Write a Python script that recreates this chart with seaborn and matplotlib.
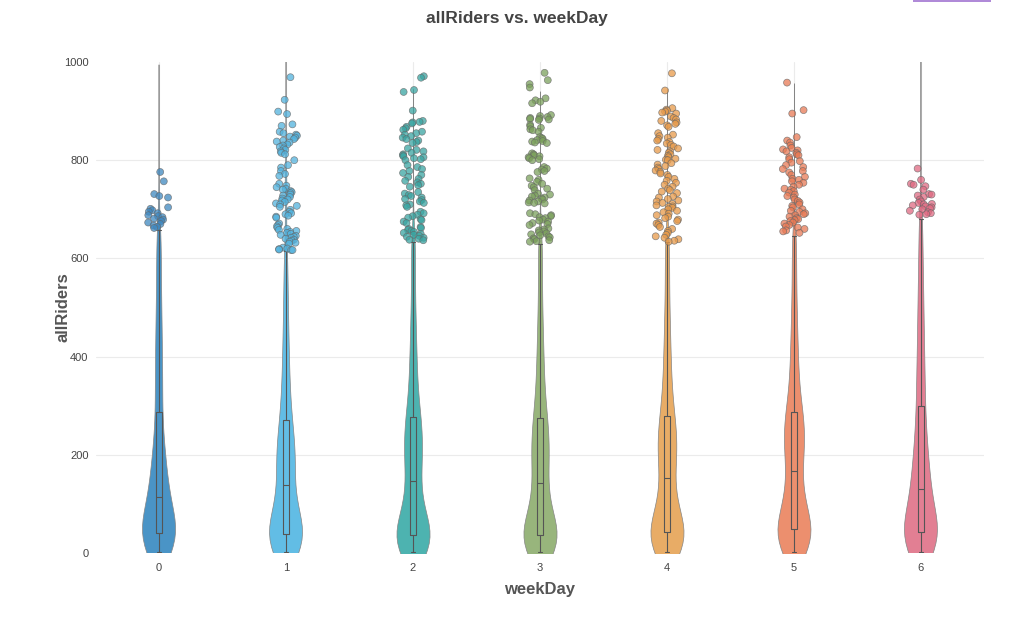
import numpy as np
import pandas as pd
import matplotlib
matplotlib.use("Agg")
import matplotlib.pyplot as plt
import seaborn as sns
from matplotlib.patches import FancyBboxPatch

# ---------------- data ----------------
week_days = ["0", "1", "2", "3", "4", "5", "6"]
y_ticks = [0, 200, 400, 600, 800, 1000]

# estimated percentiles (1%, 3%, ..., 99%) of allRiders for each weekDay
q_day0 = [2, 6, 9, 12, 15, 18, 21, 24, 27, 30, 33, 36, 39,
          43, 47, 52, 57, 62, 68, 74, 80, 87, 94, 101, 108,
          121, 129, 138, 148, 158, 169, 181, 194, 208, 223, 240, 266, 295,
          318, 342, 366, 392, 418, 446, 476, 508, 543, 582, 622, 658]
q_day1 = [2, 5, 8, 11, 14, 17, 20, 23, 26, 29, 32, 35, 37,
          41, 46, 52, 58, 65, 72, 80, 88, 97, 106, 116, 129,
          147, 158, 167, 176, 185, 194, 203, 213, 223, 233, 244, 255, 275,
          290, 310, 332, 356, 382, 410, 442, 477, 517, 562, 615, 740]
q_day2 = [2, 5, 8, 11, 14, 17, 20, 23, 26, 29, 31, 33, 35,
          39, 44, 50, 57, 64, 72, 81, 90, 100, 111, 123, 136,
          158, 168, 178, 188, 198, 208, 218, 228, 238, 248, 258, 268, 279,
          292, 310, 330, 352, 376, 402, 430, 462, 500, 545, 598, 634]
q_day3 = [2, 5, 8, 11, 14, 17, 20, 23, 26, 29, 31, 33, 35,
          39, 44, 50, 56, 63, 71, 79, 88, 98, 108, 119, 131,
          153, 163, 173, 183, 193, 203, 213, 223, 234, 245, 256, 266, 277,
          292, 310, 330, 352, 376, 402, 430, 462, 500, 545, 596, 630]
q_day4 = [3, 6, 9, 12, 15, 18, 21, 24, 28, 32, 35, 38, 41,
          45, 50, 56, 62, 69, 77, 85, 94, 104, 115, 127, 141,
          165, 175, 185, 194, 203, 212, 221, 230, 240, 250, 260, 271, 282,
          298, 316, 336, 358, 382, 408, 436, 468, 505, 548, 596, 634]
q_day5 = [3, 7, 11, 15, 19, 23, 27, 31, 35, 39, 42, 45, 47,
          52, 58, 65, 72, 80, 89, 98, 108, 119, 130, 142, 155,
          177, 187, 197, 207, 217, 226, 235, 244, 253, 262, 271, 280, 290,
          305, 323, 343, 365, 389, 415, 443, 475, 512, 555, 603, 645]
q_day6 = [3, 6, 9, 12, 15, 18, 21, 24, 27, 31, 35, 38, 41,
          45, 50, 55, 61, 67, 74, 81, 89, 97, 106, 115, 124,
          136, 144, 153, 163, 174, 186, 199, 213, 228, 244, 261, 279, 305,
          325, 347, 370, 395, 421, 449, 479, 511, 546, 584, 632, 680]

# outlier points shown above the upper whisker
out_day0 = [776, 757, 731, 727, 724, 704, 701, 698, 695, 692, 688, 686, 684,
            681, 679, 676, 673, 670, 667, 664, 662]
out_day1 = [969, 923, 899, 894, 873, 870, 858, 855, 852, 850, 848, 846, 843,
            840, 838, 836, 832, 830, 827, 824, 821, 818, 815, 812, 800, 790,
            785, 778, 772, 768, 752, 748, 745, 742, 740, 737, 735, 733, 730,
            728, 725, 722, 720, 718, 715, 712, 710, 707, 705, 699, 695, 692,
            690, 687, 685, 683, 671, 668, 665, 662, 660, 658, 656, 654, 652,
            650, 648, 646, 644, 642, 640, 638, 636, 634, 632, 630, 622, 620,
            619, 618, 617, 617]
out_day2 = [971, 968, 943, 939, 901, 880, 878, 877, 875, 868, 865, 862, 858,
            855, 852, 849, 846, 843, 840, 837, 835, 824, 821, 818, 815, 812,
            810, 808, 806, 804, 802, 800, 790, 786, 782, 778, 774, 770, 766,
            762, 758, 755, 752, 749, 746, 735, 732, 729, 727, 724, 721, 719,
            716, 713, 710, 708, 705, 695, 692, 689, 686, 683, 680, 678, 675,
            672, 664, 662, 660, 658, 656, 654, 652, 650, 648, 646, 644, 642,
            640, 638, 637]
out_day3 = [978, 963, 955, 948, 926, 922, 919, 916, 892, 890, 888, 886, 885,
            884, 883, 882, 872, 869, 866, 863, 861, 858, 847, 845, 843, 841,
            839, 838, 836, 835, 814, 812, 810, 808, 806, 804, 802, 800, 786,
            783, 781, 778, 776, 763, 760, 756, 752, 748, 745, 742, 739, 732,
            730, 728, 726, 724, 722, 720, 718, 716, 714, 713, 712, 692, 690,
            688, 686, 684, 682, 679, 677, 675, 672, 670, 668, 661, 659, 657,
            655, 653, 651, 649, 647, 645, 643, 641, 639, 637, 635, 634]
out_day4 = [977, 942, 906, 903, 901, 899, 897, 895, 889, 886, 883, 880, 877,
            874, 871, 868, 855, 852, 849, 846, 843, 840, 837, 834, 831, 828,
            824, 821, 818, 815, 812, 809, 806, 803, 801, 800, 794, 791, 788,
            785, 782, 779, 776, 773, 770, 766, 762, 758, 754, 750, 746, 742,
            739, 736, 733, 726, 724, 721, 718, 716, 713, 711, 708, 706, 705,
            703, 700, 697, 694, 691, 688, 685, 682, 679, 676, 673, 671, 668,
            664, 660, 656, 652, 648, 645, 642, 639, 636, 634]
out_day5 = [958, 902, 895, 847, 840, 836, 830, 825, 822, 820, 818, 815, 812,
            810, 806, 802, 798, 795, 790, 786, 782, 778, 775, 770, 766, 762,
            760, 757, 754, 750, 746, 742, 740, 737, 734, 730, 727, 724, 720,
            717, 714, 710, 707, 704, 700, 697, 695, 692, 690, 688, 685, 682,
            680, 678, 676, 673, 671, 668, 665, 663, 660, 657, 655, 652]
out_day6 = [783, 760, 752, 750, 747, 740, 731, 730, 728, 725, 720, 716, 713,
            711, 710, 708, 706, 704, 702, 700, 697, 694, 692, 690, 689]

fill_colors = ["#4a94c6", "#62bde5", "#4db3b0", "#98b57c",
               "#e8ac66", "#ec8f6e", "#e27f93"]
point_colors = ["#3f88c0", "#52b2dd", "#3aa5a2", "#7ba05c",
                "#e79a4a", "#e87a55", "#e06a82"]

# ---------------- build long-form tables ----------------
quantiles = [q_day0, q_day1, q_day2, q_day3, q_day4, q_day5, q_day6]
outliers = [out_day0, out_day1, out_day2, out_day3, out_day4, out_day5, out_day6]

body = pd.DataFrame({
    "weekDay": np.repeat(week_days, [len(q) for q in quantiles]),
    "allRiders": np.concatenate(quantiles),
})
outl = pd.DataFrame({
    "weekDay": np.repeat(week_days, [len(o) for o in outliers]),
    "allRiders": np.concatenate(outliers),
})

# ---------------- plot ----------------
sns.set_theme(style="white")
plt.rcParams["font.family"] = ["Liberation Sans", "DejaVu Sans"]

fig = plt.figure(figsize=(10.33, 6.25), dpi=100)
ax = fig.add_axes([0.0925, 0.1152, 0.8605, 0.7856])

sns.violinplot(data=body, x="weekDay", y="allRiders", hue="weekDay",
               order=week_days, hue_order=week_days, palette=fill_colors,
               legend=False, inner=None, cut=7, bw_method=0.26,
               density_norm="width", width=0.26, linewidth=0.5,
               linecolor="#858585", saturation=1, ax=ax)

sns.boxplot(data=body, x="weekDay", y="allRiders", order=week_days,
            width=0.05, fill=False, color="#555555", linewidth=0.8,
            showfliers=False, whis=1.5, ax=ax)

np.random.seed(3)
sns.stripplot(data=outl, x="weekDay", y="allRiders", hue="weekDay",
              order=week_days, hue_order=week_days, palette=point_colors,
              jitter=0.09, size=5, linewidth=0.5, edgecolor="#666666",
              alpha=0.75, legend=False, ax=ax)

ax.set_xlim(-0.5, 6.5)
ax.set_ylim(0, 1000)
ax.set_yticks(y_ticks)
ax.set_axisbelow(True)
ax.grid(axis="y", color="#ebebeb", linewidth=0.8)
ax.grid(axis="x", color="#ebebeb", linewidth=0.8)
for line, t in zip(ax.get_ygridlines(), y_ticks):
    if t in (0, 1000):
        line.set_visible(False)
for s in ax.spines.values():
    s.set_visible(False)
ax.tick_params(axis="both", length=0, labelsize=8, labelcolor="#444444")
ax.tick_params(axis="y", pad=5)
ax.tick_params(axis="x", pad=7)

ax.set_xlabel("weekDay", fontsize=12, fontweight="bold", color="#555555", labelpad=7)
ax.set_ylabel("allRiders", fontsize=12, fontweight="bold", color="#555555", labelpad=-5)

fig.text(0.5, 1 - 18 / 625, "allRiders vs. weekDay", ha="center", va="center",
         fontsize=12.5, fontweight="bold", color="#444444")

# small purple UI bar at top-right edge
fig.patches.append(FancyBboxPatch((913 / 1033, 1 - 2 / 625), 78 / 1033, 4 / 625,
                                  boxstyle="round,pad=0", transform=fig.transFigure,
                                  facecolor="#b08ad8", edgecolor="none"))

fig.savefig("out.png", dpi=100)
